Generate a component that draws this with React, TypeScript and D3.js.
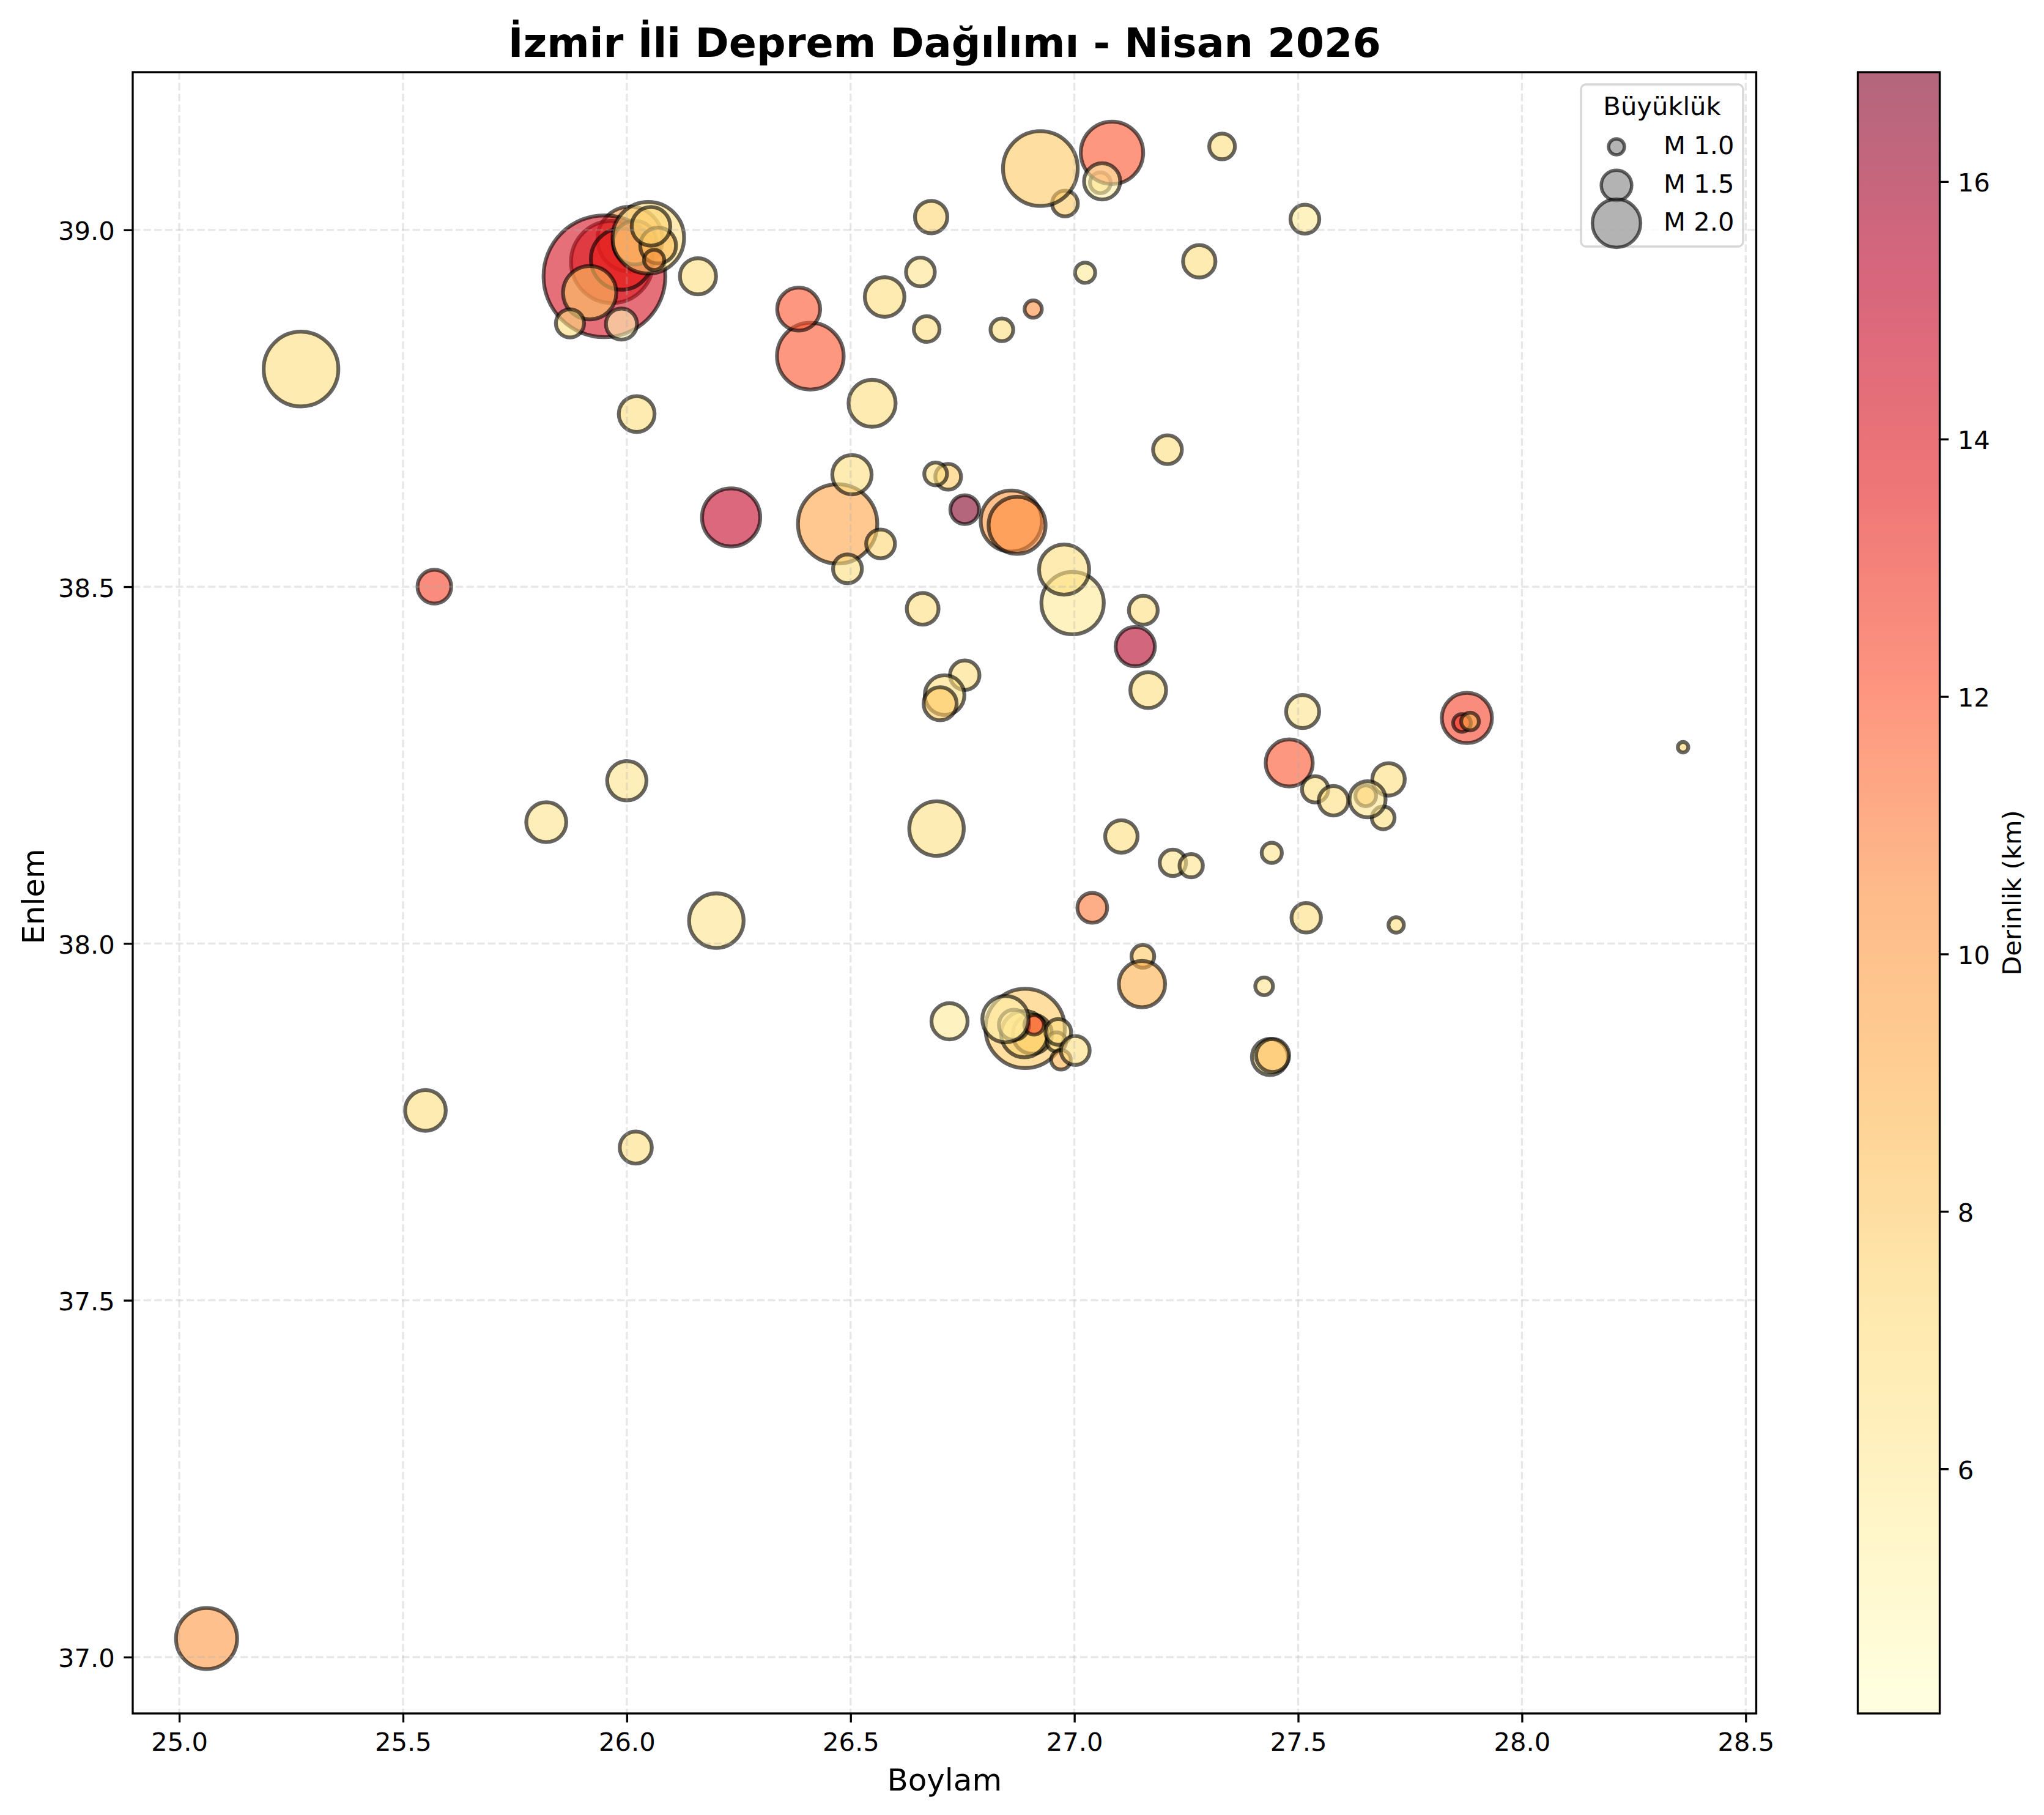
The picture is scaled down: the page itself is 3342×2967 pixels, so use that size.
import * as d3 from "d3";
import { useEffect, useRef } from "react";

const longitudes = [
  25.061, 25.272, 25.55, 25.57, 25.82, 26.007, 25.967, 25.95, 25.988, 26.018, 25.917, 26.048, 26.07, 26.061, 26.054,
  25.873, 25.988, 26.159, 26.022, 26.0, 26.02, 26.2, 26.233, 26.41, 26.384, 26.471, 26.493, 26.503, 26.548, 26.567,
  26.576, 26.656, 26.661, 26.67, 26.68, 26.718, 26.69, 26.755, 26.859, 26.872, 26.996, 26.977, 26.979, 26.924, 27.058,
  27.084, 27.062, 27.024, 26.838, 26.908, 27.33, 27.515, 27.279, 27.208, 27.154, 27.136, 27.165, 26.755, 26.71, 26.7,
  26.692, 27.105, 27.22, 27.261, 27.441, 27.04, 27.153, 27.151, 27.518, 27.719, 27.424, 27.437, 27.443, 26.721, 26.89,
  26.906, 26.888, 26.865, 26.91, 26.846, 26.96, 26.964, 26.97, 27.002, 27.48, 27.538, 27.579, 27.51, 27.702, 27.69,
  27.651, 27.655, 27.877, 27.866, 27.884, 28.36,
];
const latitudes = [
  37.026, 38.805, 37.766, 38.5, 38.17, 38.987, 38.955, 38.935, 38.959, 38.982, 38.912, 38.989, 38.978, 38.958, 39.005,
  38.869, 38.868, 38.935, 38.742, 38.228, 37.714, 38.032, 38.597, 38.823, 38.889, 38.588, 38.525, 38.657, 38.757, 38.56,
  38.906, 38.941, 38.469, 38.861, 39.018, 38.654, 38.658, 38.608, 38.592, 38.586, 38.477, 38.524, 39.037, 39.086, 39.066,
  39.108, 39.068, 38.94, 38.86, 38.889, 39.117, 39.015, 38.956, 38.692, 38.467, 38.416, 38.355, 38.376, 38.348, 38.336,
  38.161, 38.15, 38.113, 38.109, 38.127, 38.05, 37.982, 37.943, 38.036, 38.026, 37.94, 37.841, 37.843, 37.891, 37.881,
  37.873, 37.873, 37.886, 37.886, 37.894, 37.862, 37.876, 37.837, 37.85, 38.253, 38.216, 38.2, 38.325, 38.23, 38.176,
  38.207, 38.202, 38.316, 38.309, 38.311, 38.275,
];
const magnitudes = [
  2.32, 2.63, 1.8, 1.6, 1.78, 2.41, 2.79, 3.57, 2.32, 1.88, 2.13, 2.56, 1.66, 1.16, 1.74, 1.43, 1.52, 1.67, 1.66, 1.76,
  1.55, 2.16, 2.25, 2.45, 1.86, 2.73, 1.45, 1.76, 1.97, 1.45, 1.77, 1.45, 1.54, 1.35, 1.56, 1.35, 1.25, 1.45, 2.32, 2.22,
  2.35, 2.05, 1.35, 2.63, 1.18, 2.35, 1.67, 1.16, 1.25, 1.05, 1.35, 1.45, 1.56, 1.45, 1.45, 1.76, 1.66, 1.47, 1.77, 1.58,
  2.16, 1.56, 1.37, 1.27, 1.16, 1.48, 1.25, 1.95, 1.47, 0.98, 1.07, 1.67, 1.58, 1.67, 2.73, 1.76, 1.95, 1.49, 1.14, 1.95,
  1.12, 1.35, 1.14, 1.45, 1.97, 1.37, 1.47, 1.58, 1.56, 1.25, 1.18, 1.67, 2.05, 1.07, 1.07, 0.77,
];
const depths = [
  10, 7, 7, 12.5, 6.5, 10, 13.5, 14.2, 13.5, 11, 8, 7, 8.5, 10, 7.5, 7, 5, 7, 7, 6.5, 7, 6.5, 15, 12, 12, 9.5, 7, 7, 7,
  7.5, 7, 6.5, 7, 7, 7.5, 8, 7, 16.8, 10, 10.5, 6, 7, 8, 8, 7.5, 12, 5.5, 6, 7, 10.5, 7, 6, 7, 7, 7, 15.5, 7, 7, 7, 8,
  6.8, 7, 6.5, 6.5, 6.5, 11, 8, 9, 7, 7, 6.5, 6.5, 8.5, 6, 8, 8, 7.5, 7, 12.5, 5.5, 7, 7, 9, 7, 12, 7, 7, 6.5, 7, 7, 8.5,
  6.5, 12.5, 13, 9, 7.5,
];

const xTicks = [25, 25.5, 26, 26.5, 27, 27.5, 28, 28.5];
const yTicks = [37, 37.5, 38, 38.5, 39];
const depthTicks = [6, 8, 10, 12, 14, 16];
const legendMagnitudes = [1, 1.5, 2];

const WIDTH = 3342;
const HEIGHT = 2967;
const PLOT = { left: 217, right: 2871.5, top: 118, bottom: 2801 };
const BAR = { left: 3037.5, right: 3171.5 };
const FONT = "DejaVu Sans";
const DEPTH_RANGE: [number, number] = [4.1, 16.85];
const TICK = 14.6;

export default function App() {
  const svgRef = useRef<SVGSVGElement>(null);

  useEffect(() => {
    const svg = d3.select(svgRef.current!);
    svg.selectAll("*").remove();

    const x = d3.scaleLinear().domain([24.896, 28.5235]).range([PLOT.left, PLOT.right]);
    const y = d3.scaleLinear().domain([36.921, 39.221]).range([PLOT.bottom, PLOT.top]);
    const depthY = d3.scaleLinear().domain(DEPTH_RANGE).range([PLOT.bottom, PLOT.top]);
    const size = d3.scalePow().exponent(1.6).domain([0, 1]).range([0, 26]);

    // same 9 colours matplotlib's YlOrRd is built from
    const stops = d3.schemeYlOrRd[9];
    const color = d3
      .scaleLinear<string>()
      .domain(stops.map((_, i) => DEPTH_RANGE[0] + ((DEPTH_RANGE[1] - DEPTH_RANGE[0]) * i) / 8))
      .range(stops);

    svg.append("rect").attr("width", WIDTH).attr("height", HEIGHT).attr("fill", "white");

    // Points
    const rows = longitudes.map((lon, i) => ({
      lon,
      lat: latitudes[i],
      mag: magnitudes[i],
      depth: depths[i],
    }));
    svg
      .append("g")
      .selectAll("circle")
      .data(rows)
      .enter()
      .append("circle")
      .attr("cx", (d) => x(d.lon))
      .attr("cy", (d) => y(d.lat))
      .attr("r", (d) => size(d.mag) / 2)
      .attr("fill", (d) => color(d.depth))
      .attr("fill-opacity", 0.6)
      .attr("stroke", "black")
      .attr("stroke-opacity", 0.6)
      .attr("stroke-width", 6.25);

    // Grid sits above the scatter, like matplotlib's default
    const grid = svg
      .append("g")
      .attr("stroke", "#b0b0b0")
      .attr("stroke-opacity", 0.3)
      .attr("stroke-width", 3.33)
      .attr("stroke-dasharray", "12.3 5.3");
    grid
      .selectAll(".gx")
      .data(xTicks)
      .enter()
      .append("line")
      .attr("x1", (d) => x(d))
      .attr("x2", (d) => x(d))
      .attr("y1", PLOT.top)
      .attr("y2", PLOT.bottom);
    grid
      .selectAll(".gy")
      .data(yTicks)
      .enter()
      .append("line")
      .attr("x1", PLOT.left)
      .attr("x2", PLOT.right)
      .attr("y1", (d) => y(d))
      .attr("y2", (d) => y(d));

    // Axes
    const styleAxis = (g: d3.Selection<SVGGElement, unknown, null, undefined>) => {
      g.select(".domain").remove();
      g.attr("font-family", FONT).attr("font-size", 41.67);
      g.selectAll("line").attr("stroke", "black").attr("stroke-width", 3.33);
      g.selectAll("text").attr("fill", "black");
    };
    svg
      .append("g")
      .attr("transform", `translate(0,${PLOT.bottom})`)
      .call(d3.axisBottom(x).tickValues(xTicks).tickSize(TICK).tickPadding(17).tickFormat(d3.format(".1f")) as any)
      .call(styleAxis as any);
    svg
      .append("g")
      .attr("transform", `translate(${PLOT.left},0)`)
      .call(d3.axisLeft(y).tickValues(yTicks).tickSize(TICK).tickPadding(TICK).tickFormat(d3.format(".1f")) as any)
      .call(styleAxis as any)
      .call((g: any) => g.selectAll("text").attr("dy", "0.385em"));
    svg
      .append("rect")
      .attr("x", PLOT.left)
      .attr("y", PLOT.top)
      .attr("width", PLOT.right - PLOT.left)
      .attr("height", PLOT.bottom - PLOT.top)
      .attr("fill", "none")
      .attr("stroke", "black")
      .attr("stroke-width", 3.33);

    // Titles
    const label = (text: string, px: number, py: number, fontSize: number, rotate = false) =>
      svg
        .append("text")
        .attr("transform", `translate(${px},${py})${rotate ? " rotate(-90)" : ""}`)
        .attr("text-anchor", "middle")
        .attr("font-family", FONT)
        .attr("font-size", fontSize)
        .attr("fill", "black")
        .text(text);
    label("İzmir İli Deprem Dağılımı - Nisan 2026", (PLOT.left + PLOT.right) / 2, 93, 66.67).attr("font-weight", "bold");
    label("Boylam", (PLOT.left + PLOT.right) / 2, 2927, 50);
    label("Enlem", 72, (PLOT.top + PLOT.bottom) / 2 + 6, 50, true);
    label("Derinlik (km)", 3304, (PLOT.top + PLOT.bottom) / 2, 41.67, true);

    // Colorbar
    const defs = svg.append("defs");
    const grad = defs
      .append("linearGradient")
      .attr("id", "depthGrad")
      .attr("x1", "0")
      .attr("y1", "1")
      .attr("x2", "0")
      .attr("y2", "0");
    stops.forEach((c, i) => {
      grad
        .append("stop")
        .attr("offset", `${(i / 8) * 100}%`)
        .attr("stop-color", c)
        .attr("stop-opacity", 0.6);
    });
    svg
      .append("rect")
      .attr("x", BAR.left)
      .attr("y", PLOT.top)
      .attr("width", BAR.right - BAR.left)
      .attr("height", PLOT.bottom - PLOT.top)
      .attr("fill", "url(#depthGrad)")
      .attr("stroke", "black")
      .attr("stroke-width", 3.33);
    svg
      .append("g")
      .attr("transform", `translate(${BAR.right},0)`)
      .call(d3.axisRight(depthY).tickValues(depthTicks).tickSize(TICK).tickPadding(TICK).tickFormat(d3.format("d")) as any)
      .call(styleAxis as any)
      .call((g: any) => g.selectAll("text").attr("dy", "0.385em"));

    // Legend
    const legend = svg.append("g").attr("font-family", FONT).attr("font-size", 41.67);
    legend
      .append("rect")
      .attr("x", 2585)
      .attr("y", 138)
      .attr("width", 265)
      .attr("height", 265)
      .attr("rx", 8)
      .attr("fill", "white")
      .attr("fill-opacity", 0.8)
      .attr("stroke", "#cccccc")
      .attr("stroke-opacity", 0.8)
      .attr("stroke-width", 3.33);
    legend.append("text").attr("x", 2717.5).attr("y", 188).attr("text-anchor", "middle").text("Büyüklük");
    const legendY = d3.scaleLinear().domain([1, 1.5, 2]).range([240, 303, 365]);
    legendMagnitudes.forEach((m) => {
      legend
        .append("circle")
        .attr("cx", 2643)
        .attr("cy", legendY(m))
        .attr("r", size(m) / 2)
        .attr("fill", "gray")
        .attr("fill-opacity", 0.6)
        .attr("stroke", "black")
        .attr("stroke-opacity", 0.6)
        .attr("stroke-width", 5.5);
      legend
        .append("text")
        .attr("x", 2720)
        .attr("y", legendY(m) + 12)
        .text(`M ${m.toFixed(1)}`);
    });
  }, []);

  return (
    <svg
      ref={svgRef}
      width={WIDTH}
      height={HEIGHT}
      style={{ position: "absolute", left: 0, top: 0, display: "block" }}
    />
  );
}
